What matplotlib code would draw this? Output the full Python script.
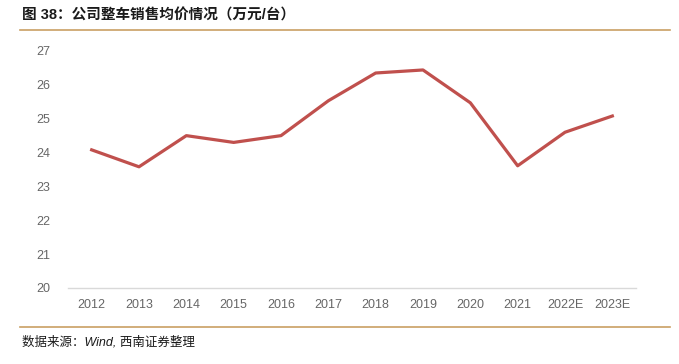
import matplotlib.pyplot as plt
from matplotlib.lines import Line2D

plt.rcParams['font.family'] = ['Liberation Sans', 'Noto Sans CJK SC', 'DejaVu Sans']

years = ['2012', '2013', '2014', '2015', '2016', '2017', '2018', '2019',
         '2020', '2021', '2022E', '2023E']
prices = [24.08, 23.58, 24.50, 24.30, 24.50, 25.53, 26.35, 26.44,
          25.47, 23.61, 24.60, 25.08]

fig = plt.figure(figsize=(6.79, 3.64), dpi=100)
ax = fig.add_axes([68 / 679, 1 - 288 / 364, (636 - 68) / 679, (288 - 51) / 364])

ax.plot(range(len(years)), prices, color='#C0504D', linewidth=2.3)
ax.set_xlim(-0.5, len(years) - 0.5)
ax.set_ylim(20, 27)
ax.set_yticks(range(20, 28))
ax.set_xticks(range(len(years)))
ax.set_xticklabels(years)

for s in ['top', 'right', 'left']:
    ax.spines[s].set_visible(False)
ax.spines['bottom'].set_color('#D9D9D9')
ax.spines['bottom'].set_linewidth(1)
ax.tick_params(axis='both', length=0, labelsize=9, colors='#666666')
ax.tick_params(axis='x', pad=8)
ax.tick_params(axis='y', pad=13)

fig.text(22 / 679, 1 - 15 / 364, '图 38：公司整车销售均价情况（万元/台）',
         fontsize=10.5, fontweight='bold', va='center', ha='left', color='#1a1a1a')
fig.add_artist(Line2D([20 / 679, 670 / 679], [1 - 30 / 364] * 2,
                      color='#C9A063', linewidth=1.2))
fig.add_artist(Line2D([20 / 679, 670 / 679], [1 - 327 / 364] * 2,
                      color='#C9A063', linewidth=1.2))
fig.text(22 / 679, 1 - 342 / 364, '数据来源：Wind, 西南证券整理',
         fontsize=9, style='italic', va='center', ha='left', color='#1a1a1a')

fig.savefig('out.png', dpi=100)
